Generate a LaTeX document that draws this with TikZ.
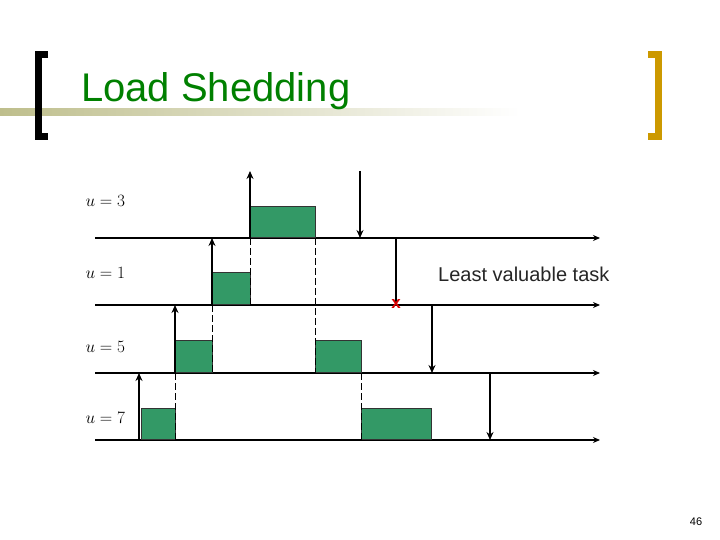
\documentclass[tikz,border=0pt]{standalone}
\usepackage{fontspec}
\setmainfont{Liberation Sans}
\usepackage{amsmath}
\usetikzlibrary{arrows.meta}
\definecolor{tgreen}{RGB}{0,128,0}
\definecolor{boxg}{RGB}{51,153,102}
\definecolor{gold}{RGB}{204,153,0}
\definecolor{olive}{RGB}{190,190,140}
\begin{document}
\begin{tikzpicture}[x=1pt,y=-1pt,
  tl/.style={line width=2pt,-{Stealth[length=7pt,width=6pt]}},
  ev/.style={line width=2.8pt,-{Stealth[length=8pt,width=7pt]}},
  job/.style={draw=black!80,fill=boxg,line width=0.6pt},
  gd/.style={line width=0.6pt,dash pattern=on 7pt off 3pt},
  ul/.style={anchor=west,font=\fontsize{16}{16}\selectfont}]
\useasboundingbox (0,0) rectangle (720,540);
\shade[left color=olive,right color=white] (0,109) rectangle (520,116);
\draw[line width=7pt,black] (48,55) -- (38.5,55) -- (38.5,137) -- (48,137);
\draw[line width=7pt,gold] (648,55) -- (658.5,55) -- (658.5,137) -- (648,137);
\node[anchor=west,text=tgreen,font=\fontsize{40}{40}\selectfont,inner sep=0] (title) at (81,91) {Load Shedding};
% timelines
\foreach \n/\y in {a/238,b/305,c/373,d/440}{
  \coordinate (\n0) at (95,\y); \coordinate (\n1) at (600,\y);
  \draw[tl] (\n0) -- (\n1);}
% jobs
\node[job,minimum width=65pt,minimum height=31pt,inner sep=0,anchor=south west] (j3) at (250,238) {};
\node[job,minimum width=38pt,minimum height=32pt,inner sep=0,anchor=south west] (j1) at (212,305) {};
\node[job,minimum width=37pt,minimum height=32pt,inner sep=0,anchor=south west] (j5a) at (175,373) {};
\node[job,minimum width=46pt,minimum height=32pt,inner sep=0,anchor=south west] (j5b) at (315,373) {};
\node[job,minimum width=34pt,minimum height=31pt,inner sep=0,anchor=south west] (j7a) at (141,440) {};
\node[job,minimum width=70pt,minimum height=31pt,inner sep=0,anchor=south west] (j7b) at (361,440) {};
% dashed guides
\draw[gd] (250,238) -- (250,305);
\draw[gd] (212,305) -- (212,373);
\draw[gd] (175,373) -- (175,440);
\draw[gd] (315,238) -- (315,373);
\draw[gd] (361,373) -- (361,440);
% releases
\coordinate (r3) at (250,171); \draw[ev] (250,238) -- (r3);
\coordinate (r1) at (212,238); \draw[ev] (212,305) -- (r1);
\coordinate (r5) at (175,305); \draw[ev] (175,373) -- (r5);
\coordinate (r7) at (139,373); \draw[ev] (139,440) -- (r7);
% deadlines
\coordinate (d3) at (360,171); \draw[ev] (d3) -- (360,238);
\coordinate (d1) at (396,238); \draw[line width=2.8pt] (d1) -- (396,303);
\coordinate (d5) at (432,305); \draw[ev] (d5) -- (432,373);
\coordinate (d7) at (490,373); \draw[ev] (d7) -- (490,440);
\node[text=red!85!black,font=\bfseries\fontsize{17}{17}\selectfont,inner sep=0] (x) at (396,304) {x};
% labels
\node[ul] (u3) at (82,201) {$u=3$};
\node[ul] (u1) at (82,273) {$u=1$};
\node[ul] (u5) at (82,347) {$u=5$};
\node[ul] (u7) at (82,418) {$u=7$};
\node[anchor=west,font=\fontsize{20}{20}\selectfont,text=black!85,inner sep=0] (lv) at (438,274) {Least valuable task};
\node[font=\fontsize{11}{11}\selectfont] (pg) at (696,522) {46};
\end{tikzpicture}
\end{document}
